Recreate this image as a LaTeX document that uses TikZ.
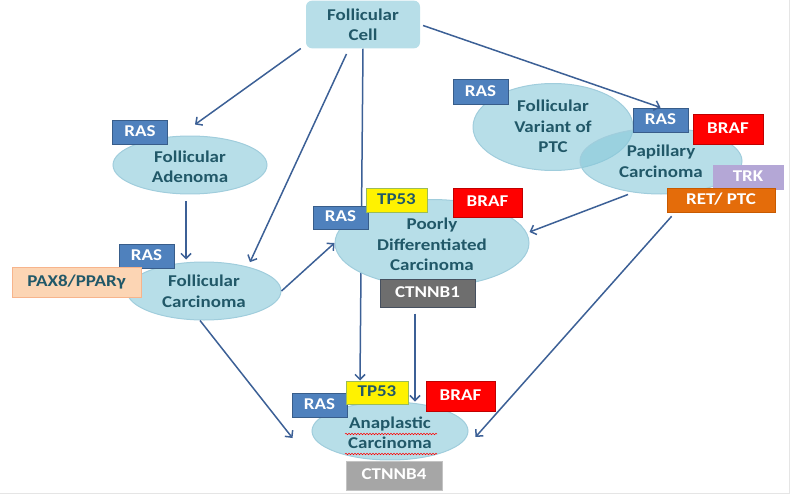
\documentclass[tikz,border=0pt]{standalone}
\usepackage{fontspec}
\newfontfamily\boldcar{Carlito}[UprightFont={* Bold}]
\usepackage{graphicx}
\usepackage{xcolor}
\usepackage{tikz}
\usetikzlibrary{shapes.geometric,arrows.meta,backgrounds,decorations.pathmorphing}

\definecolor{ellfill}{RGB}{183,222,232}
\definecolor{ellfillB}{RGB}{135,200,217}
\definecolor{ellline}{RGB}{160,205,220}
\definecolor{txtteal}{RGB}{33,88,104}
\definecolor{rasblue}{RGB}{79,129,189}
\definecolor{rasline}{RGB}{56,93,138}
\definecolor{tpline}{RGB}{155,187,89}
\definecolor{brafline}{RGB}{192,0,0}
\definecolor{paxfill}{RGB}{252,213,180}
\definecolor{paxline}{RGB}{247,180,140}
\definecolor{ctdark}{RGB}{110,110,110}
\definecolor{ctdarkline}{RGB}{70,80,95}
\definecolor{ctlight}{RGB}{166,166,166}
\definecolor{ctlightline}{RGB}{195,195,195}
\definecolor{trkfill}{RGB}{180,167,214}
\definecolor{retfill}{RGB}{228,108,10}
\definecolor{retline}{RGB}{200,90,0}
\definecolor{arrowc}{RGB}{60,96,150}

% wide text, like the stretched labels
\newcommand{\wtext}[1]{\scalebox{1.15}[1]{\begin{tabular}{@{}c@{}}#1\end{tabular}}}
\newcommand{\stext}[2][2pt]{\raisebox{-#1}[\height][\depth]{\wtext{#2}}}

\tikzset{
  lbl/.style={font=\boldcar\fontsize{16.5}{20.5}\selectfont, align=center},
  stage/.style={lbl, ellipse, fill=ellfill, draw=ellline, line width=1pt, inner sep=0pt, text=txtteal},
  stageB/.style={stage, fill=ellfillB, fill opacity=0.6, text opacity=1},
  gene/.style={lbl, rectangle, line width=1pt, inner sep=0pt, minimum height=24pt, text=white},
  rasbox/.style={gene, fill=rasblue, draw=rasline, minimum width=55pt},
  tpbox/.style={gene, fill=yellow, draw=tpline, minimum width=61pt, text=txtteal},
  brafbox/.style={gene, fill=red, draw=brafline, minimum width=69pt, minimum height=29pt},
  arr/.style={-{Straight Barb[length=5pt,width=10pt]}, color=arrowc, line width=1.5pt},
  squiggle/.style={red, line width=0.5pt, decorate, decoration={snake, segment length=3pt, amplitude=0.8pt}}
}

\begin{document}
\begin{tikzpicture}[x=1pt, y=-1pt]
\useasboundingbox (0,0) rectangle (790,495);
\draw[gray!20] (789,0) -- (789,493) -- (0,493);

% stages
\node (cell) [lbl, rectangle, rounded corners=6pt, fill=ellfill, text=txtteal, minimum width=114pt, minimum height=45pt] at (363,24.5) {\stext{Follicular\\Cell}};
\node (adenoma) [stage, minimum width=154pt, minimum height=56pt] at (190,165) {\stext[3.5pt]{Follicular\\Adenoma}};
\node (fcarc) [stage, minimum width=154pt, minimum height=58pt] at (204,291) {\stext{Follicular\\Carcinoma}};
\node (pdc) [stage, minimum width=194pt, minimum height=66pt] at (432,243) {\stext[3pt]{Poorly\\Differentiated\\Carcinoma}};
\node (anap) [stage, minimum width=156pt, minimum height=56pt] at (390,431) {\stext[3.5pt]{Anaplastic\\Carcinoma}};
\node (fvptc) [stageB, minimum width=160pt, minimum height=68pt] at (553,127) {\stext[1pt]{Follicular\\Variant of\\PTC}};
\node (papil) [stageB, minimum width=162pt, minimum height=66pt] at (661,161) {\stext{Papillary\\Carcinoma}};

% genes
\node (rasAd) [rasbox] at (140,132) {\wtext{RAS}};
\node (rasFc) [rasbox] at (146.5,256) {\wtext{RAS}};
\node (pax) [gene, fill=paxfill, draw=paxline, minimum width=129pt, minimum height=30pt, text=txtteal] at (76.5,282) {\wtext{PAX8/PPARγ}};
\node (rasPdc) [rasbox, minimum height=23pt] at (340.5,217.5) {\wtext{RAS}};
\node (tpPdc) [tpbox] at (396.5,200) {\wtext{TP53}};
\node (brafPdc) [brafbox] at (487.5,202.5) {\wtext{BRAF}};
\node (ctnnbA) [gene, fill=ctdark, draw=ctdarkline, minimum width=95pt, minimum height=28pt] at (427.5,293) {\wtext{CTNNB1}};
\node (rasAn) [rasbox] at (319.5,405) {\wtext{RAS}};
\node (tpAn) [tpbox, minimum width=62pt, minimum height=23pt] at (377,392.5) {\wtext{TP53}};
\node (brafAn) [brafbox, minimum height=30pt] at (460.5,396) {\wtext{BRAF}};
\node (ctnnbB) [gene, fill=ctlight, draw=ctlightline, minimum width=96pt, minimum height=29pt] at (394,475.5) {\wtext{CTNNB4}};
\node (rasFv) [rasbox] at (480.5,92) {\wtext{RAS}};
\node (rasPa) [rasbox] at (660.5,120) {\wtext{RAS}};
\node (brafPa) [brafbox, minimum width=70pt, minimum height=30pt] at (728,129) {\wtext{BRAF}};
\node (trk) [gene, fill=trkfill, draw=trkfill, minimum width=70pt] at (748,177) {\wtext{TRK}};
\node (ret) [gene, fill=retfill, draw=retline, minimum width=108pt] at (721,200) {\wtext{RET/ PTC}};

% spelling marks
\draw[squiggle] ([shift={(-45pt,-3pt)}]anap.center) -- ([shift={(47pt,-3pt)}]anap.center);
\draw[squiggle] ([shift={(-45pt,-23pt)}]anap.center) -- ([shift={(47pt,-23pt)}]anap.center);

% arrows
\begin{scope}[on background layer]
\draw[arr] (cell.south) -- ([xshift=-17pt]tpAn.north);
\end{scope}
\draw[arr] ([xshift=-5pt]cell.south west) -- ([shift={(5pt,11pt)}]adenoma.north);
\draw[arr, shorten <=6pt, shorten >=5pt] ([xshift=-14pt]cell.south) -- (fcarc.29);
\draw[arr, shorten <=3pt] (cell.east) -- (rasPa.north);
\draw[arr, shorten <=7pt, shorten >=2pt] ([xshift=-4pt]adenoma.south) -- ([xshift=-4pt]adenoma.south |- fcarc.north);
\draw[arr] (fcarc.east) -- (pdc.west);
\draw[arr] ([xshift=-4pt]fcarc.south) -- ([shift={(-19pt,-7pt)}]anap.west);
\draw[arr, shorten <=6pt] ([xshift=-12.5pt]ctnnbA.south) -- ([xshift=-12.5pt]ctnnbA.south |- anap.north);
\draw[arr] ([xshift=-33pt]papil.south) -- ([yshift=11pt]pdc.east);
\draw[arr, shorten <=5pt] ([xshift=-46pt]ret.south) -- ([shift={(7pt,-6pt)}]anap.east);
\end{tikzpicture}
\end{document}
